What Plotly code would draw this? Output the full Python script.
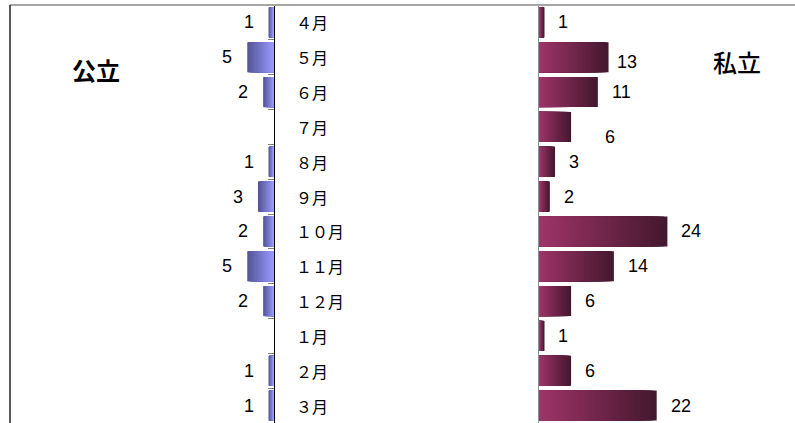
import plotly.graph_objects as go

months = ["４月", "５月", "６月", "７月", "８月", "９月", "１０月", "１１月", "１２月", "１月", "２月", "３月"]
public = [1, 5, 2, 0, 1, 3, 2, 5, 2, 0, 1, 1]
private = [1, 13, 11, 6, 3, 2, 24, 14, 6, 1, 6, 22]
public_title = "公立"
private_title = "私立"

W, H = 795, 423
TOP = 5
PX_PER_UNIT = 5.35
LEFT_EDGE, LEFT_AXIS, RIGHT_AXIS = 10, 274, 539

# label nudges (pixels) for a few private labels, as in the original
private_nudge = {1: (-6, -5), 3: (20, -10)}

N = 36


def lerp(c1, c2, t):
    return "rgb(%d,%d,%d)" % tuple(round(a + (b - a) * t) for a, b in zip(c1, c2))


pub_tip, pub_base = (84, 84, 150), (154, 154, 255)
pri_tip, pri_base = (68, 24, 46), (158, 52, 104)

fig = go.Figure()
for k in range(N):
    frac = 1 - k / N
    t = k / (N - 1)
    fig.add_trace(go.Bar(
        y=months, x=[v * frac for v in public], orientation="h",
        marker=dict(color=lerp(pub_tip, pub_base, t), line=dict(width=0)),
        xaxis="x", yaxis="y", showlegend=False, hoverinfo="skip"))
    fig.add_trace(go.Bar(
        y=months, x=[v * frac for v in private], orientation="h",
        marker=dict(color=lerp(pri_tip, pri_base, t), line=dict(width=0)),
        xaxis="x2", yaxis="y2", showlegend=False, hoverinfo="skip"))

ann = []
vfont = dict(family="Liberation Sans, Arial", size=18, color="black")
for i, (m, v) in enumerate(zip(months, public)):
    if v:
        ann.append(dict(x=v, y=m, xref="x", yref="y", text=str(v), showarrow=False,
                        xanchor="right", xshift=-13, font=vfont))
for i, (m, v) in enumerate(zip(months, private)):
    dx, dy = private_nudge.get(i, (0, 0))
    ann.append(dict(x=v, y=m, xref="x2", yref="y2", text=str(v), showarrow=False,
                    xanchor="left", xshift=12 + dx, yshift=dy, font=vfont))
for m in months:
    ann.append(dict(x=294 / W, y=m, xref="paper", yref="y", text=m, showarrow=False,
                    xanchor="left", font=dict(family="Noto Sans CJK JP", size=16, color="black")))

plot_h = H - TOP
ann.append(dict(x=96 / W, y=(H - 70) / plot_h, xref="paper", yref="paper", text=public_title,
                xanchor="center", yanchor="middle", showarrow=False,
                font=dict(family="Noto Sans CJK JP", size=24, color="black", weight=600)))
ann.append(dict(x=737 / W, y=(H - 62) / plot_h, xref="paper", yref="paper", text=private_title,
                xanchor="center", yanchor="middle", showarrow=False,
                font=dict(family="Noto Sans CJK JP", size=24, color="black", weight=500)))

fig.update_layout(
    width=W, height=H, margin=dict(l=0, r=0, t=TOP, b=0),
    paper_bgcolor="white", plot_bgcolor="white",
    barmode="overlay", bargap=0.14,
    xaxis=dict(domain=[LEFT_EDGE / W, LEFT_AXIS / W],
               range=[(LEFT_AXIS - LEFT_EDGE) / PX_PER_UNIT, 0],
               showgrid=False, zeroline=False, showticklabels=False),
    yaxis=dict(type="category", categoryorder="array", categoryarray=months,
               autorange="reversed", anchor="x", side="right",
               showline=True, linecolor="black", linewidth=1,
               ticks="inside", tickson="boundaries", ticklen=6, tickcolor="#808080",
               showticklabels=False, showgrid=False),
    xaxis2=dict(domain=[RIGHT_AXIS / W, 1],
                range=[0, (W - RIGHT_AXIS) / PX_PER_UNIT],
                showgrid=False, zeroline=False, showticklabels=False, anchor="y2"),
    yaxis2=dict(type="category", categoryorder="array", categoryarray=months,
                autorange="reversed", anchor="x2", side="left",
                showline=True, linecolor="#909090", linewidth=1,
                ticks="", showticklabels=False, showgrid=False),
    annotations=ann,
    shapes=[
        dict(type="line", xref="paper", yref="paper", x0=LEFT_EDGE / W, x1=1, y0=1, y1=1,
             line=dict(color="#A6A6A6", width=2)),
        dict(type="line", xref="paper", yref="paper", x0=LEFT_EDGE / W, x1=LEFT_EDGE / W, y0=0, y1=1,
             line=dict(color="#202020", width=1.5)),
    ],
)

fig.write_html("out.html", config={"displayModeBar": False},
               post_script="document.body.style.margin='0px';document.body.style.overflow='hidden';")
